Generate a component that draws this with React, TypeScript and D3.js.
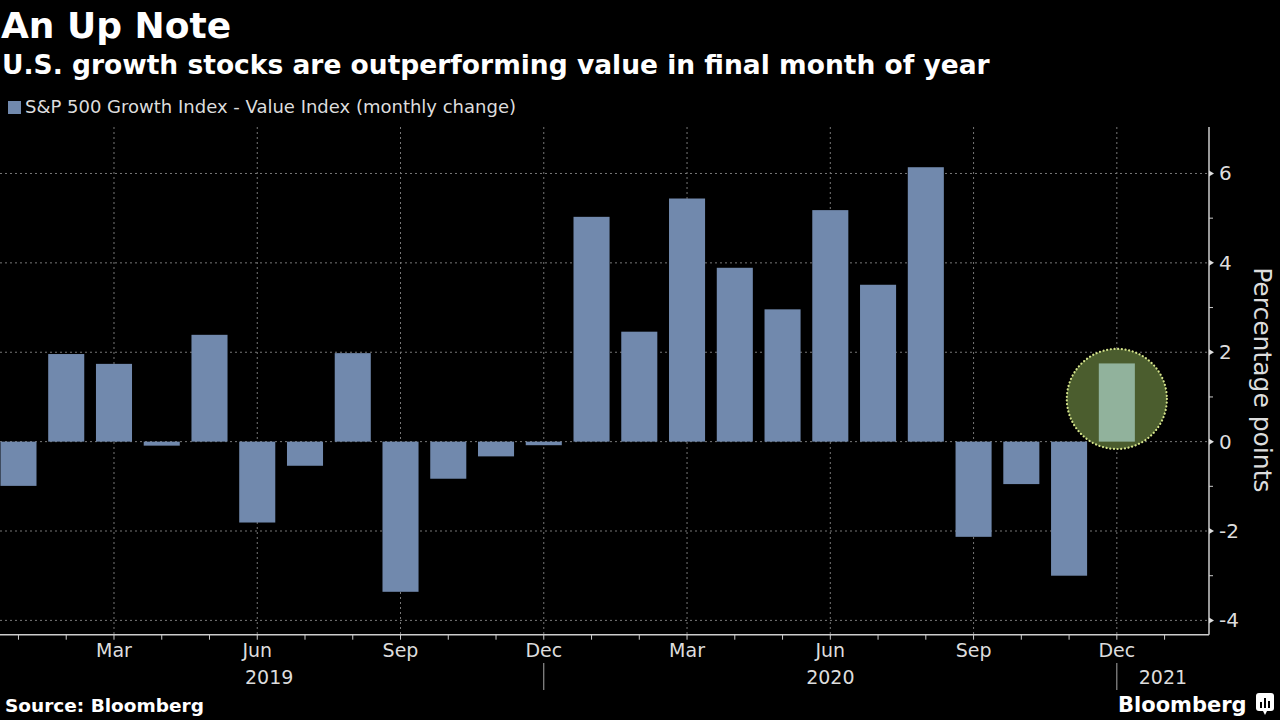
import React from "react";
import * as d3 from "d3";

const monthLabels = [
  "Jan", "Feb", "Mar", "Apr", "May", "Jun", "Jul", "Aug", "Sep", "Oct", "Nov", "Dec",
  "Jan", "Feb", "Mar", "Apr", "May", "Jun", "Jul", "Aug", "Sep", "Oct", "Nov", "Dec",
];
const spreadValues = [
  -0.99, 1.96, 1.74, -0.09, 2.39, -1.81, -0.54, 1.98, -3.36, -0.83, -0.33, -0.08,
  5.03, 2.46, 5.44, 3.89, 2.96, 5.18, 3.51, 6.14, -2.13, -0.95, -3.0, 1.75,
];
const yTicks = [-4, -2, 0, 2, 4, 6];
const yMinorTicks = [-3, -1, 1, 3, 5];
const quarterLabelIdx = [2, 5, 8, 11, 14, 17, 20, 23];
const yearLabels = ["2019", "2020", "2021"];
const yearBreakIdx = [11, 23];

const W = 1280;
const H = 720;
const plotLeft = -5.4;
const plotRight = 1209;
const plotTop = 127;
const plotBottom = 634.7;

const FONT = "'DejaVu Sans', sans-serif";

export default function App() {
  const x = d3.scaleLinear().domain([-0.5, 24.93]).range([plotLeft, plotRight]);
  const y = d3.scaleLinear().domain([-4.32, 7.04]).range([plotBottom, plotTop]);
  const step = x(1) - x(0);
  const barW = step * 0.755;
  const lastIdx = spreadValues.length - 1;

  const allTickIdx = d3.range(0, 25);
  const yearBounds = [plotLeft, ...yearBreakIdx.map((i) => x(i)), plotRight];

  const hlVal = spreadValues[lastIdx];
  const circleCx = x(lastIdx);
  const circleCy = y(hlVal / 2 + 0.08);
  const circleR = y(0) - y(1.12);

  return (
    <svg
      width={W}
      height={H}
      style={{ position: "absolute", left: 0, top: 0, background: "#000" }}
    >
      <rect x={0} y={0} width={W} height={H} fill="#000" />
      {/* Titles */}
      <text x={1} y={38} fill="#fff" fontFamily={FONT} fontWeight="bold" fontSize={36}>
        An Up Note
      </text>
      <text x={2} y={74} fill="#fff" fontFamily={FONT} fontWeight="bold" fontSize={26.5}>
        U.S. growth stocks are outperforming value in final month of year
      </text>
      {/* Legend */}
      <rect x={8} y={101} width={13} height={13} fill="#7189ad" />
      <text x={25} y={113} fill="#ddd" fontFamily={FONT} fontSize={18}>
        S&amp;P 500 Growth Index - Value Index (monthly change)
      </text>

      {/* Gridlines */}
      <g stroke="#777" strokeWidth={1} strokeDasharray="2,3">
        {yTicks.map((t) => (
          <line key={"h" + t} x1={0} x2={plotRight} y1={y(t)} y2={y(t)} />
        ))}
        {quarterLabelIdx.map((i) => (
          <line key={"v" + i} x1={x(i)} x2={x(i)} y1={plotTop} y2={plotBottom} />
        ))}
      </g>

      {/* Bars */}
      <g>
        {spreadValues.map((v, i) =>
          i === lastIdx ? null : (
            <rect
              key={i}
              x={x(i) - barW / 2}
              y={Math.min(y(v), y(0))}
              width={barW}
              height={Math.abs(y(v) - y(0))}
              fill="#7189ad"
            />
          )
        )}
      </g>

      {/* Highlight */}
      <circle
        cx={circleCx}
        cy={circleCy}
        r={circleR}
        fill="#4b5d2e"
        stroke="#d4e38a"
        strokeWidth={2.2}
        strokeDasharray="0.1,3.6"
        strokeLinecap="round"
      />
      <rect
        x={x(lastIdx) - barW / 2}
        y={y(hlVal)}
        width={barW}
        height={y(0) - y(hlVal)}
        fill="#91b29c"
      />

      {/* X axis */}
      <line x1={0} x2={plotRight} y1={plotBottom} y2={plotBottom} stroke="#ccc" strokeWidth={1.5} />
      {allTickIdx.map((i) => (
        <line key={"xt" + i} x1={x(i)} x2={x(i)} y1={plotBottom} y2={plotBottom + 5} stroke="#ccc" strokeWidth={1} />
      ))}
      {quarterLabelIdx.map((i) => (
        <text
          key={"xl" + i}
          x={x(i)}
          y={657}
          textAnchor="middle"
          fill="#ddd"
          fontFamily={FONT}
          fontSize={19}
        >
          {monthLabels[i]}
        </text>
      ))}
      {yearBreakIdx.map((i) => (
        <line key={"yb" + i} x1={x(i)} x2={x(i)} y1={663} y2={690} stroke="#aaa" strokeWidth={1} />
      ))}
      {yearLabels.map((lab, k) => (
        <text
          key={lab}
          x={(yearBounds[k] + yearBounds[k + 1]) / 2}
          y={684}
          textAnchor="middle"
          fill="#ddd"
          fontFamily={FONT}
          fontSize={19}
        >
          {lab}
        </text>
      ))}

      {/* Y axis (right) */}
      <line x1={plotRight} x2={plotRight} y1={plotTop} y2={plotBottom} stroke="#ccc" strokeWidth={1.5} />
      {yMinorTicks.map((t) => (
        <line key={"ym" + t} x1={plotRight} x2={plotRight + 4} y1={y(t)} y2={y(t)} stroke="#ccc" strokeWidth={1} />
      ))}
      {yTicks.map((t) => (
        <g key={"yt" + t}>
          <path
            d={`M${plotRight},${y(t) - 3}L${plotRight + 5},${y(t)}L${plotRight},${y(t) + 3}Z`}
            fill="#ddd"
          />
          <text
            x={plotRight + 10}
            y={y(t) + 7}
            fill="#ddd"
            fontFamily={FONT}
            fontSize={20}
          >
            {t < 0 ? "-" + Math.abs(t) : String(t)}
          </text>
        </g>
      ))}
      <text
        transform={`translate(1254, ${(plotTop + plotBottom) / 2 - 1}) rotate(90)`}
        textAnchor="middle"
        fill="#ddd"
        fontFamily={FONT}
        fontSize={25}
      >
        Percentage points
      </text>

      {/* Footer */}
      <text x={5} y={712} fill="#fff" fontFamily={FONT} fontWeight="bold" fontSize={18.5}>
        Source: Bloomberg
      </text>
      <text x={1118} y={712} fill="#fff" fontFamily={FONT} fontWeight="bold" fontSize={21}>
        Bloomberg
      </text>
      <g transform="translate(1256,693)">
        <rect x={0} y={0} width={18} height={18} rx={3} fill="#fff" />
        <path d="M7,18 L9,22 L11,18 Z" fill="#fff" />
        <rect x={4} y={9} width={2} height={6} fill="#000" />
        <rect x={8} y={5} width={2} height={10} fill="#000" />
        <rect x={12} y={8} width={2} height={7} fill="#000" />
      </g>
    </svg>
  );
}
